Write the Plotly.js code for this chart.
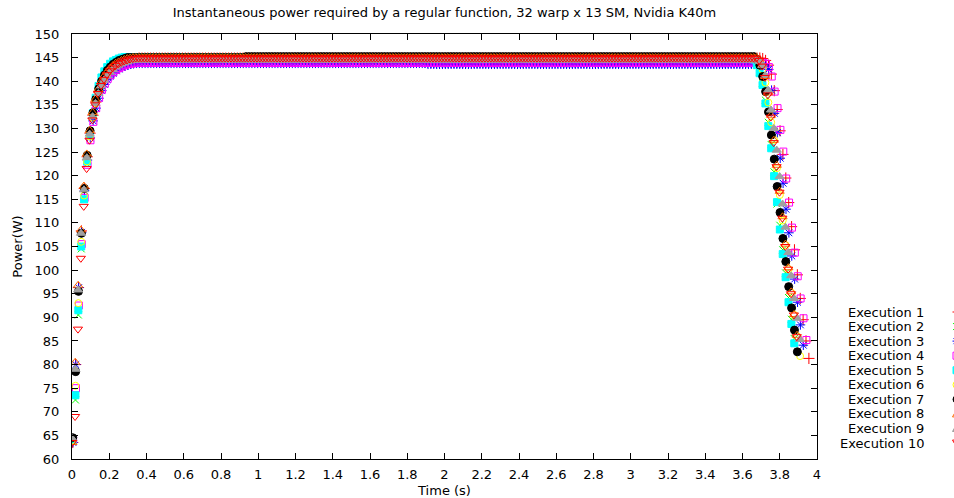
<!DOCTYPE html>
<html><head><meta charset="utf-8">
<script src="https://cdn.plot.ly/plotly-3.0.1.min.js"></script>
<style>html,body{margin:0;padding:0;background:#fff}#chart{width:954px;height:498px}</style>
</head><body><div id="chart"></div>
<script>
// ---- data (power samples in W, one sample every samplePeriod s) ----
const samplePeriod = 0.0155;
const seriesNames = ['Execution 1','Execution 2','Execution 3','Execution 4','Execution 5','Execution 6','Execution 7','Execution 8','Execution 9','Execution 10'];
const startTime = [0.004, 0.003, 0.005, 0.006, 0.003, 0.003, 0.004, 0.002, 0.002, 0.001];

const exec1Rise = [63.5,80.0,96.3,108.3,117.3,124.0,129.0,132.8,135.6,137.7,139.3,140.5,141.4,142.1,142.7,143.2,143.6,143.9,144.2,144.4,144.6,144.7,144.8,144.9];
const exec1Hold = [
144.9,144.9,144.9,144.9,144.9,144.9,144.9,144.9,144.9,144.9,
144.9,144.9,144.9,144.9,144.9,144.9,144.9,144.9,144.9,144.9,
144.9,144.9,144.9,144.9,144.9,144.9,144.9,144.9,144.9,144.9,
144.9,144.9,144.9,144.9,144.9,144.9,144.9,144.9,144.9,144.9,
144.9,144.9,144.9,144.9,144.9,144.9,144.9,144.9,144.9,144.9,
144.9,144.9,144.9,144.9,144.9,144.9,144.9,144.9,144.9,144.9,
144.9,144.9,144.9,144.9,144.9,144.9,144.9,144.9,144.9,144.9,
144.9,144.9,144.9,144.9,144.9,144.9,144.9,144.9,144.9,144.9,
144.9,144.9,144.9,144.9,144.9,144.9,144.9,144.9,144.9,144.9,
144.9,144.9,144.9,144.9,144.9,144.9,144.9,144.9,144.9,144.9,
144.9,144.9,144.9,144.9,144.9,144.9,144.9,144.9,144.9,144.9,
144.9,144.9,144.9,144.9,144.9,144.9,144.9,144.9,144.9,144.9,
144.9,144.9,144.9,144.9,144.9,144.9,144.9,144.9,144.9,144.9,
144.9,144.9,144.9,144.9,144.9,144.9,144.9,144.9,144.9,144.9,
144.9,144.9,144.9,144.9,144.9,144.9,144.9,144.9,144.9,144.9,
144.9,144.9,144.9,144.9,144.9,144.9,144.9,144.9,144.9,144.9,
144.9,144.9,144.9,144.9,144.9,144.9,144.9,144.9,144.9,144.9,
144.9,144.9,144.9,144.9,144.9,144.9,144.9,144.9,144.9,144.9,
144.9,144.9,144.9,144.9,144.9,144.9,144.9,144.9,144.9,144.9,
144.9,144.9,144.9,144.9,144.9,144.9,144.9,144.9,144.9,144.9,
144.9,144.9,144.9,144.9,144.9,144.9,144.9,144.9,144.9,144.9,
144.9,144.9,144.9,144.9,144.9];
const exec1Fall = [144.8,144.4,143.4,141.5,138.0,134.0,129.5,124.5,119.5,114.3,109.2,104.3,99.0,94.0,89.5,85.0,81.3];

const exec2Rise = [64.0,72.5,90.5,104.5,115.0,122.5,128.3,132.5,135.6,137.9,139.6,140.9,141.9,142.7,143.3,143.8,144.2,144.5,144.7,144.9];
const exec2Hold = [
145,145,145,145,145,145,145,145,145,145,
145,145,145,145,145,145,145,145,145,145,
145,145,145,145,145,145,145,145,145,145,
145,145,145,145,145,145,145,145,145,145,
145,145,145,145,145,145,145,145,145,145,
145,145,145,145,145,145,145,145,145,145,
145,145,145,145,145,145,145,145,145,145,
145,145,145,145,145,145,145,145,145,145,
145,145,145,145,145,145,145,145,145,145,
145,145,145,145,145,145,145,145,145,145,
145,145,145,145,145,145,145,145,145,145,
145,145,145,145,145,145,145,145,145,145,
145,145,145,145,145,145,145,145,145,145,
145,145,145,145,145,145,145,145,145,145,
145,145,145,145,145,145,145,145,145,145,
145,145,145,145,145,145,145,145,145,145,
145,145,145,145,145,145,145,145,145,145,
145,145,145,145,145,145,145,145,145,145,
145,145,145,145,145,145,145,145,145,145,
145,145,145,145,145,145,145,145,145,145,
145,145,145,145,145,145,145,145,145,145,
145,145,145,145,145,145];
const exec2Fall = [144.7,143.6,141.9,139.6,136.0,131.3,126.6,120.8,114.0,109.5,104.3,99.4,94.2,89.6,85.5];

const exec3Rise = [63.5,80.0,96.3,108.0,116.8,123.3,128.0,131.6,134.3,136.4,138.0,139.3,140.3,141.1,141.7,142.2,142.6,142.9,143.2,143.4,143.6,143.7,143.8];
const exec3HoldEarly = [
143.8,143.8,143.8,143.8,143.8,143.8,143.8,143.8,143.8,143.8,
143.8,143.8,143.8,143.8,143.8,143.8,143.8,143.8,143.8,143.8,
143.8,143.8,143.8,143.8,143.8,143.8,143.8,143.8,143.8,143.8,
143.8,143.8,143.8,143.8,143.8,143.8,143.8,143.8,143.8,143.8,
143.8,143.8,143.8,143.8,143.8,143.8,143.8,143.8,143.8,143.8,
143.8,143.8,143.8,143.8,143.8,143.8,143.8,143.8,143.8,143.8,
143.8,143.8,143.8,143.8,143.8,143.8,143.8,143.8,143.8,143.8,
143.8,143.8,143.8,143.8,143.8,143.8,143.8,143.8,143.8,143.8,
143.8,143.8,143.8,143.8,143.8,143.8,143.8,143.8,143.8,143.8,
143.8,143.8,143.8,143.8,143.8,143.8,143.8,143.8,143.8,143.8];
const exec3HoldLate = [
143.6,143.6,143.6,143.6,143.6,143.6,143.6,143.6,143.6,143.6,
143.6,143.6,143.6,143.6,143.6,143.6,143.6,143.6,143.6,143.6,
143.6,143.6,143.6,143.6,143.6,143.6,143.6,143.6,143.6,143.6,
143.6,143.6,143.6,143.6,143.6,143.6,143.6,143.6,143.6,143.6,
143.6,143.6,143.6,143.6,143.6,143.6,143.6,143.6,143.6,143.6,
143.6,143.6,143.6,143.6,143.6,143.6,143.6,143.6,143.6,143.6,
143.6,143.6,143.6,143.6,143.6,143.6,143.6,143.6,143.6,143.6,
143.6,143.6,143.6,143.6,143.6,143.6,143.6,143.6,143.6,143.6,
143.6,143.6,143.6,143.6,143.6,143.6,143.6,143.6,143.6,143.6,
143.6,143.6,143.6,143.6,143.6,143.6,143.6,143.6,143.6,143.6,
143.6,143.6,143.6,143.6,143.6,143.6,143.6,143.6,143.6,143.6,
143.6,143.6,143.6,143.6,143.6,143.6];
const exec3Fall = [143.5,143.1,142.5,138.1,133.2,129.1,123.7,118.4,112.9,107.9,103.0,98.1,93.2,88.4,84.1];

const exec4Rise = [64.0,75.0,92.5,105.5,115.3,122.3,127.5,131.4,134.3,136.5,138.2,139.5,140.5,141.3,141.9,142.4,142.8,143.1,143.4,143.6,143.7,143.8];
const exec4Hold = [
143.9,143.9,143.9,143.9,143.9,143.9,143.9,143.9,143.9,143.9,
143.9,143.9,143.9,143.9,143.9,143.9,143.9,143.9,143.9,143.9,
143.9,143.9,143.9,143.9,143.9,143.9,143.9,143.9,143.9,143.9,
143.9,143.9,143.9,143.9,143.9,143.9,143.9,143.9,143.9,143.9,
143.9,143.9,143.9,143.9,143.9,143.9,143.9,143.9,143.9,143.9,
143.9,143.9,143.9,143.9,143.9,143.9,143.9,143.9,143.9,143.9,
143.9,143.9,143.9,143.9,143.9,143.9,143.9,143.9,143.9,143.9,
143.9,143.9,143.9,143.9,143.9,143.9,143.9,143.9,143.9,143.9,
143.9,143.9,143.9,143.9,143.9,143.9,143.9,143.9,143.9,143.9,
143.9,143.9,143.9,143.9,143.9,143.9,143.9,143.9,143.9,143.9,
143.9,143.9,143.9,143.9,143.9,143.9,143.9,143.9,143.9,143.9,
143.9,143.9,143.9,143.9,143.9,143.9,143.9,143.9,143.9,143.9,
143.9,143.9,143.9,143.9,143.9,143.9,143.9,143.9,143.9,143.9,
143.9,143.9,143.9,143.9,143.9,143.9,143.9,143.9,143.9,143.9,
143.9,143.9,143.9,143.9,143.9,143.9,143.9,143.9,143.9,143.9,
143.9,143.9,143.9,143.9,143.9,143.9,143.9,143.9,143.9,143.9,
143.9,143.9,143.9,143.9,143.9,143.9,143.9,143.9,143.9,143.9,
143.9,143.9,143.9,143.9,143.9,143.9,143.9,143.9,143.9,143.9,
143.9,143.9,143.9,143.9,143.9,143.9,143.9,143.9,143.9,143.9,
143.9,143.9,143.9,143.9,143.9,143.9,143.9,143.9,143.9,143.9,
143.9,143.9,143.9,143.9,143.9,143.9,143.9,143.9,143.9,143.9,
143.9,143.9,143.9,143.9,143.9,143.9,143.9,143.9];
const exec4Fall = [143.7,143.0,141.0,137.8,134.3,129.7,125.1,119.4,114.3,109.0,103.7,98.7,94.0,89.8,85.2];

const exec5Rise = [64.0,73.5,91.5,105.0,115.0,123.0,128.8,133.2,136.5,139.0,140.8,142.1,143.0,143.7,144.2,144.5,144.8,145.0];
const exec5Hold = [
145.1,145.1,145.1,145.1,145.1,145.1,145.1,145.1,145.1,145.1,
145.1,145.1,145.1,145.1,145.1,145.1,145.1,145.1,145.1,145.1,
145.1,145.1,145.1,145.1,145.1,145.1,145.1,145.1,145.1,145.1,
145.1,145.1,145.1,145.1,145.1,145.1,145.1,145.1,145.1,145.1,
145.1,145.1,145.1,145.1,145.1,145.1,145.1,145.1,145.1,145.1,
145.1,145.1,145.1,145.1,145.1,145.1,145.1,145.1,145.1,145.1,
145.1,145.1,145.1,145.1,145.1,145.1,145.1,145.1,145.1,145.1,
145.1,145.1,145.1,145.1,145.1,145.1,145.1,145.1,145.1,145.1,
145.1,145.1,145.1,145.1,145.1,145.1,145.1,145.1,145.1,145.1,
145.1,145.1,145.1,145.1,145.1,145.1,145.1,145.1,145.1,145.1,
145.1,145.1,145.1,145.1,145.1,145.1,145.1,145.1,145.1,145.1,
145.1,145.1,145.1,145.1,145.1,145.1,145.1,145.1,145.1,145.1,
145.1,145.1,145.1,145.1,145.1,145.1,145.1,145.1,145.1,145.1,
145.1,145.1,145.1,145.1,145.1,145.1,145.1,145.1,145.1,145.1,
145.1,145.1,145.1,145.1,145.1,145.1,145.1,145.1,145.1,145.1,
145.1,145.1,145.1,145.1,145.1,145.1,145.1,145.1,145.1,145.1,
145.1,145.1,145.1,145.1,145.1,145.1,145.1,145.1,145.1,145.1,
145.1,145.1,145.1,145.1,145.1,145.1,145.1,145.1,145.1,145.1,
145.1,145.1,145.1,145.1,145.1,145.1,145.1,145.1,145.1,145.1,
145.1,145.1,145.1,145.1,145.1,145.1,145.1,145.1,145.1,145.1,
145.1,145.1,145.1,145.1,145.1,145.1,145.1,145.1,145.1,145.1,
145.1,145.1,145.1,145.1,145.1,145.1,145.1,145.1];
const exec5Fall = [144.6,143.4,141.7,139.2,135.3,130.5,125.8,119.9,114.4,108.6,103.4,98.5,93.2,88.6,84.5];

const exec6Rise = [64.0,75.5,93.0,106.0,115.8,123.0,128.3,132.3,135.3,137.6,139.3,140.6,141.6,142.4,143.0,143.5,143.9,144.2,144.5,144.7,144.9];
const exec6Hold = [
145,145,145,145,145,145,145,145,145,145,
145,145,145,145,145,145,145,145,145,145,
145,145,145,145,145,145,145,145,145,145,
145,145,145,145,145,145,145,145,145,145,
145,145,145,145,145,145,145,145,145,145,
145,145,145,145,145,145,145,145,145,145,
145,145,145,145,145,145,145,145,145,145,
145,145,145,145,145,145,145,145,145,145,
145,145,145,145,145,145,145,145,145,145,
145,145,145,145,145,145,145,145,145,145,
145,145,145,145,145,145,145,145,145,145,
145,145,145,145,145,145,145,145,145,145,
145,145,145,145,145,145,145,145,145,145,
145,145,145,145,145,145,145,145,145,145,
145,145,145,145,145,145,145,145,145,145,
145,145,145,145,145,145,145,145,145,145,
145,145,145,145,145,145,145,145,145,145,
145,145,145,145,145,145,145,145,145,145,
145,145,145,145,145,145,145,145,145,145,
145,145,145,145,145,145,145,145,145,145,
145,145,145,145,145,145,145,145,145,145,
145,145,145,145,145,145];
const exec6Fall = [144.8,144.2,142.5,139.7,135.5,131.3,127.6,121.6,115.9,110.5,105.3,100.2,95.2,90.5,86.0,81.8];

const exec7Rise = [64.5,78.5,95.5,107.8,117.3,124.3,129.5,133.3,136.2,138.4,140.0,141.3,142.3,143.0,143.6,144.0,144.4,144.6,144.8,145.0];
const exec7HoldEarly = [
145,145,145,145,145,145,145,145,145,145,
145,145,145,145,145,145,145,145,145,145,
145,145,145,145,145,145,145,145,145,145,
145,145,145,145,145,145,145,145,145,145];
const exec7HoldLate = [
145.2,145.2,145.2,145.2,145.2,145.2,145.2,145.2,145.2,145.2,
145.2,145.2,145.2,145.2,145.2,145.2,145.2,145.2,145.2,145.2,
145.2,145.2,145.2,145.2,145.2,145.2,145.2,145.2,145.2,145.2,
145.2,145.2,145.2,145.2,145.2,145.2,145.2,145.2,145.2,145.2,
145.2,145.2,145.2,145.2,145.2,145.2,145.2,145.2,145.2,145.2,
145.2,145.2,145.2,145.2,145.2,145.2,145.2,145.2,145.2,145.2,
145.2,145.2,145.2,145.2,145.2,145.2,145.2,145.2,145.2,145.2,
145.2,145.2,145.2,145.2,145.2,145.2,145.2,145.2,145.2,145.2,
145.2,145.2,145.2,145.2,145.2,145.2,145.2,145.2,145.2,145.2,
145.2,145.2,145.2,145.2,145.2,145.2,145.2,145.2,145.2,145.2,
145.2,145.2,145.2,145.2,145.2,145.2,145.2,145.2,145.2,145.2,
145.2,145.2,145.2,145.2,145.2,145.2,145.2,145.2,145.2,145.2,
145.2,145.2,145.2,145.2,145.2,145.2,145.2,145.2,145.2,145.2,
145.2,145.2,145.2,145.2,145.2,145.2,145.2,145.2,145.2,145.2,
145.2,145.2,145.2,145.2,145.2,145.2,145.2,145.2,145.2,145.2,
145.2,145.2,145.2,145.2,145.2,145.2,145.2,145.2,145.2,145.2,
145.2,145.2,145.2,145.2,145.2,145.2,145.2,145.2,145.2,145.2,
145.2,145.2,145.2,145.2,145.2,145.2,145.2];
const exec7Fall = [144.6,143.4,141.0,137.8,133.5,128.6,123.5,117.7,112.2,106.7,101.8,96.5,92.0,87.3,82.7];

const exec8Rise = [63.5,80.5,96.8,108.5,117.8,124.6,129.6,133.4,136.2,138.3,139.9,141.1,142.0,142.7,143.3,143.8,144.1,144.4,144.6,144.8,144.9];
const exec8Hold = [
145,145,145,145,145,145,145,145,145,145,
145,145,145,145,145,145,145,145,145,145,
145,145,145,145,145,145,145,145,145,145,
145,145,145,145,145,145,145,145,145,145,
145,145,145,145,145,145,145,145,145,145,
145,145,145,145,145,145,145,145,145,145,
145,145,145,145,145,145,145,145,145,145,
145,145,145,145,145,145,145,145,145,145,
145,145,145,145,145,145,145,145,145,145,
145,145,145,145,145,145,145,145,145,145,
145,145,145,145,145,145,145,145,145,145,
145,145,145,145,145,145,145,145,145,145,
145,145,145,145,145,145,145,145,145,145,
145,145,145,145,145,145,145,145,145,145,
145,145,145,145,145,145,145,145,145,145,
145,145,145,145,145,145,145,145,145,145,
145,145,145,145,145,145,145,145,145,145,
145,145,145,145,145,145,145,145,145,145,
145,145,145,145,145,145,145,145,145,145,
145,145,145,145,145,145,145,145,145,145,
145,145,145,145,145,145,145,145,145,145,
145,145,145,145,145,145,145];
const exec8Fall = [144.6,143.4,141.0,137.5,132.8,127.5,122.2,116.7,111.3,105.5,100.5,95.4,90.6,86.2];

const exec9Rise = [64.3,79.0,95.8,107.8,117.0,123.8,128.8,132.5,135.3,137.4,139.0,140.2,141.1,141.9,142.5,143.0,143.4,143.7,143.9,144.1,144.3,144.4];
const exec9Hold = [
144.5,144.5,144.5,144.5,144.5,144.5,144.5,144.5,144.5,144.5,
144.5,144.5,144.5,144.5,144.5,144.5,144.5,144.5,144.5,144.5,
144.5,144.5,144.5,144.5,144.5,144.5,144.5,144.5,144.5,144.5,
144.5,144.5,144.5,144.5,144.5,144.5,144.5,144.5,144.5,144.5,
144.5,144.5,144.5,144.5,144.5,144.5,144.5,144.5,144.5,144.5,
144.5,144.5,144.5,144.5,144.5,144.5,144.5,144.5,144.5,144.5,
144.5,144.5,144.5,144.5,144.5,144.5,144.5,144.5,144.5,144.5,
144.5,144.5,144.5,144.5,144.5,144.5,144.5,144.5,144.5,144.5,
144.5,144.5,144.5,144.5,144.5,144.5,144.5,144.5,144.5,144.5,
144.5,144.5,144.5,144.5,144.5,144.5,144.5,144.5,144.5,144.5,
144.5,144.5,144.5,144.5,144.5,144.5,144.5,144.5,144.5,144.5,
144.5,144.5,144.5,144.5,144.5,144.5,144.5,144.5,144.5,144.5,
144.5,144.5,144.5,144.5,144.5,144.5,144.5,144.5,144.5,144.5,
144.5,144.5,144.5,144.5,144.5,144.5,144.5,144.5,144.5,144.5,
144.5,144.5,144.5,144.5,144.5,144.5,144.5,144.5,144.5,144.5,
144.5,144.5,144.5,144.5,144.5,144.5,144.5,144.5,144.5,144.5,
144.5,144.5,144.5,144.5,144.5,144.5,144.5,144.5,144.5,144.5,
144.5,144.5,144.5,144.5,144.5,144.5,144.5,144.5,144.5,144.5,
144.5,144.5,144.5,144.5,144.5,144.5,144.5,144.5,144.5,144.5,
144.5,144.5,144.5,144.5,144.5,144.5,144.5,144.5,144.5,144.5,
144.5,144.5,144.5,144.5,144.5,144.5,144.5,144.5,144.5,144.5,
144.5,144.5,144.5,144.5,144.5,144.5];
const exec9Fall = [144.2,143.3,141.2,138.1,133.9,130.0,125.4,119.8,114.0,109.1,103.7,98.8,94.0,89.8,85.3];

const exec10Rise = [63.5,69.0,87.5,102.5,113.5,121.5,127.5,131.8,135.0,137.4,139.1,140.4,141.4,142.2,142.8,143.3,143.7,144.0,144.3,144.5,144.7,144.8];
const exec10Hold = [
144.9,144.9,144.9,144.9,144.9,144.9,144.9,144.9,144.9,144.9,
144.9,144.9,144.9,144.9,144.9,144.9,144.9,144.9,144.9,144.9,
144.9,144.9,144.9,144.9,144.9,144.9,144.9,144.9,144.9,144.9,
144.9,144.9,144.9,144.9,144.9,144.9,144.9,144.9,144.9,144.9,
144.9,144.9,144.9,144.9,144.9,144.9,144.9,144.9,144.9,144.9,
144.9,144.9,144.9,144.9,144.9,144.9,144.9,144.9,144.9,144.9,
144.9,144.9,144.9,144.9,144.9,144.9,144.9,144.9,144.9,144.9,
144.9,144.9,144.9,144.9,144.9,144.9,144.9,144.9,144.9,144.9,
144.9,144.9,144.9,144.9,144.9,144.9,144.9,144.9,144.9,144.9,
144.9,144.9,144.9,144.9,144.9,144.9,144.9,144.9,144.9,144.9,
144.9,144.9,144.9,144.9,144.9,144.9,144.9,144.9,144.9,144.9,
144.9,144.9,144.9,144.9,144.9,144.9,144.9,144.9,144.9,144.9,
144.9,144.9,144.9,144.9,144.9,144.9,144.9,144.9,144.9,144.9,
144.9,144.9,144.9,144.9,144.9,144.9,144.9,144.9,144.9,144.9,
144.9,144.9,144.9,144.9,144.9,144.9,144.9,144.9,144.9,144.9,
144.9,144.9,144.9,144.9,144.9,144.9,144.9,144.9,144.9,144.9,
144.9,144.9,144.9,144.9,144.9,144.9,144.9,144.9,144.9,144.9,
144.9,144.9,144.9,144.9,144.9,144.9,144.9,144.9,144.9,144.9,
144.9,144.9,144.9,144.9,144.9,144.9,144.9,144.9,144.9,144.9,
144.9,144.9,144.9,144.9,144.9,144.9,144.9,144.9,144.9,144.9,
144.9,144.9,144.9,144.9,144.9,144.9,144.9,144.9,144.9,144.9,
144.9,144.9,144.9,144.9,144.9,144.9];
const exec10Fall = [144.4,143.2,140.8,137.1,132.4,127.0,121.9,116.5,111.0,105.0,100.2,95.0,90.5,85.9];

// ---- styles ----
const seriesColors = ['#ff0000','#00ff00','#0000ff','#ff00ff','#00ffff','#ffff00','#000000','#ff6a00','#a0a0a0','#ff0000'];
const seriesSymbols = ['cross-thin-open','x-thin-open','asterisk-open','square-open','square','circle-open','circle','triangle-up-open','triangle-up','triangle-down-open'];
const seriesSizes = [8,7,8,7,7,7,8,8,8,8];

const powerSeries = [
  exec1Rise.concat(exec1Hold, exec1Fall),
  exec2Rise.concat(exec2Hold, exec2Fall),
  exec3Rise.concat(exec3HoldEarly, exec3HoldLate, exec3Fall),
  exec4Rise.concat(exec4Hold, exec4Fall),
  exec5Rise.concat(exec5Hold, exec5Fall),
  exec6Rise.concat(exec6Hold, exec6Fall),
  exec7Rise.concat(exec7HoldEarly, exec7HoldLate, exec7Fall),
  exec8Rise.concat(exec8Hold, exec8Fall),
  exec9Rise.concat(exec9Hold, exec9Fall),
  exec10Rise.concat(exec10Hold, exec10Fall)
];

const FONT = 'DejaVu Sans, Liberation Sans, sans-serif';
const FS = 13;
const traces = powerSeries.map((vals, s) => ({
  type: 'scatter', mode: 'markers', name: seriesNames[s], showlegend: false,
  x: vals.map((_, k) => startTime[s] + k * samplePeriod),
  y: vals,
  marker: {symbol: seriesSymbols[s], size: seriesSizes[s], color: seriesColors[s],
           line: {color: seriesColors[s], width: 1}},
  hoverinfo: 'x+y+name'
}));

// legend drawn gnuplot-style: text right-aligned, point sample to its right (clipped by the page edge)
const plotL = 72, plotR = 817, plotT = 34, plotB = 459;
const pxX = px => (px - plotL) / (plotR - plotL);
const pxY = py => (plotB - py) / (plotB - plotT);
const annotations = [];
const shapes = [];
function seg(x0, y0, x1, y1, c) {
  shapes.push({type: 'line', xref: 'paper', yref: 'paper', x0: pxX(x0), y0: pxY(y0), x1: pxX(x1), y1: pxY(y1),
               line: {color: c, width: 1}});
}
function poly(pts, c, filled) {
  const d = pts.map((p, j) => (j ? 'L' : 'M') + pxX(p[0]) + ',' + pxY(p[1])).join(' ') + ' Z';
  shapes.push({type: 'path', xref: 'paper', yref: 'paper', path: d, line: {color: c, width: 1},
               fillcolor: filled ? c : 'rgba(0,0,0,0)'});
}
function sample(i, cx, cy) {
  const c = seriesColors[i], h = 4;
  switch (seriesSymbols[i]) {
    case 'cross-thin-open': seg(cx - h, cy, cx + h, cy, c); seg(cx, cy - h, cx, cy + h, c); break;
    case 'x-thin-open': seg(cx - 3.5, cy - 3.5, cx + 3.5, cy + 3.5, c); seg(cx - 3.5, cy + 3.5, cx + 3.5, cy - 3.5, c); break;
    case 'asterisk-open': seg(cx - h, cy, cx + h, cy, c); seg(cx, cy - h, cx, cy + h, c);
      seg(cx - 3, cy - 3, cx + 3, cy + 3, c); seg(cx - 3, cy + 3, cx + 3, cy - 3, c); break;
    case 'square-open': poly([[cx - 3.5, cy - 3.5], [cx + 3.5, cy - 3.5], [cx + 3.5, cy + 3.5], [cx - 3.5, cy + 3.5]], c, false); break;
    case 'square': poly([[cx - 3.5, cy - 3.5], [cx + 3.5, cy - 3.5], [cx + 3.5, cy + 3.5], [cx - 3.5, cy + 3.5]], c, true); break;
    case 'circle-open': case 'circle':
      shapes.push({type: 'circle', xref: 'paper', yref: 'paper', x0: pxX(cx - 3.5), x1: pxX(cx + 3.5),
                   y0: pxY(cy + 3.5), y1: pxY(cy - 3.5), line: {color: c, width: 1},
                   fillcolor: seriesSymbols[i] === 'circle' ? c : 'rgba(0,0,0,0)'}); break;
    case 'triangle-up-open': poly([[cx - h, cy + 3], [cx + h, cy + 3], [cx, cy - h]], c, false); break;
    case 'triangle-up': poly([[cx - h, cy + 3], [cx + h, cy + 3], [cx, cy - h]], c, true); break;
    case 'triangle-down-open': poly([[cx - h, cy - 3], [cx + h, cy - 3], [cx, cy + h]], c, false); break;
  }
}
seriesNames.forEach((n, i) => {
  const py = 312 + i * 14.56;
  annotations.push({xref: 'paper', yref: 'paper', x: pxX(926), y: pxY(py), xanchor: 'right', yanchor: 'middle',
    text: n, showarrow: false, font: {family: FONT, size: FS, color: '#000'}});
  sample(i, 956.5, py);
});

const axisCommon = {
  showline: true, linecolor: '#000', linewidth: 1, mirror: 'ticks',
  ticks: 'inside', ticklen: 6, tickwidth: 1, tickcolor: '#000',
  showgrid: false, zeroline: false, automargin: false,
  tickfont: {family: FONT, size: FS, color: '#000'}
};

const layout = {
  width: 954, height: 498,
  margin: {l: plotL, r: 954 - plotR, t: plotT, b: 498 - plotB, pad: 0},
  paper_bgcolor: '#fff', plot_bgcolor: '#fff',
  font: {family: FONT, size: FS, color: '#000'},
  showlegend: false,
  title: {text: 'Instantaneous power required by a regular function, 32 warp x 13 SM, Nvidia K40m',
          font: {family: FONT, size: FS, color: '#000'}, xref: 'paper', x: 0.5, xanchor: 'center',
          yref: 'container', y: 1 - 12 / 498, yanchor: 'middle'},
  xaxis: Object.assign({}, axisCommon, {range: [0, 4], tick0: 0, dtick: 0.2, ticklabelstandoff: 3,
          title: {text: 'Time (s)', standoff: 5, font: {family: FONT, size: FS, color: '#000'}}}),
  yaxis: Object.assign({}, axisCommon, {range: [60, 150], tick0: 60, dtick: 5, ticklabelstandoff: 9,
          title: {text: 'Power(W)', standoff: 9, font: {family: FONT, size: FS, color: '#000'}}}),
  annotations: annotations,
  shapes: shapes
};

Plotly.newPlot('chart', traces, layout, {displayModeBar: false, staticPlot: true});
</script></body></html>
